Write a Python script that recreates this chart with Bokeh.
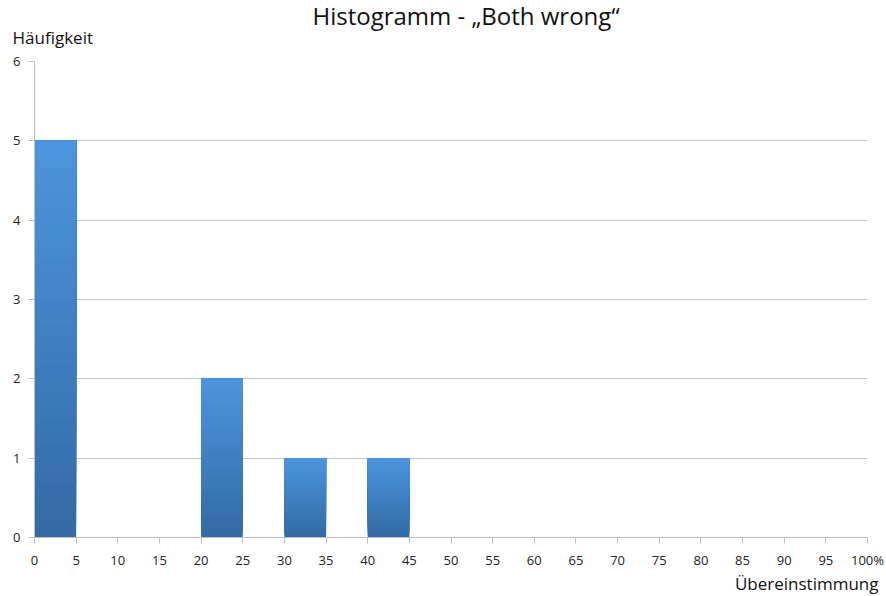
from bokeh.plotting import figure
from bokeh.models import Title, Range1d
from bokeh.embed import file_html
from bokeh.resources import INLINE

# Data
bin_starts = [0, 5, 10, 15, 20, 25, 30, 35, 40, 45, 50, 55, 60, 65, 70, 75, 80, 85, 90, 95]
bin_width = 5
counts = [5, 0, 0, 0, 2, 0, 1, 0, 1, 0, 0, 0, 0, 0, 0, 0, 0, 0, 0, 0]
x_ticks = list(range(0, 101, 5))
y_ticks = [0, 1, 2, 3, 4, 5, 6]
title_text = "Histogramm - \u201eBoth wrong\u201c"
y_label = "H\u00e4ufigkeit"
x_label = "\u00dcbereinstimmung"

FONT = "Open Sans"

p = figure(width=886, height=596, output_backend="svg", toolbar_location=None,
           x_range=Range1d(0, 100), y_range=Range1d(0, 6), title=None,
           min_border_left=34, min_border_right=19, min_border_top=61, min_border_bottom=59)
p.outline_line_color = None
p.background_fill_color = "white"
p.border_fill_color = "white"

# gradient bars (per-bar vertical gradient, overlapping slices to avoid seams)
top_rgb = (76, 149, 222)
bot_rgb = (50, 106, 164)
n = 30
lefts, rights, bottoms, tops, colors = [], [], [], [], []
for b, c in zip(bin_starts, counts):
    if c <= 0:
        continue
    for i in range(n):
        t = (i + 0.5) / n
        rgb = tuple(int(round(bot_rgb[k] + (top_rgb[k] - bot_rgb[k]) * t)) for k in range(3))
        lefts.append(b)
        rights.append(b + bin_width)
        bottoms.append(c * i / n)
        tops.append(c)
        colors.append("#%02x%02x%02x" % rgb)
p.quad(left=lefts, right=rights, bottom=bottoms, top=tops, fill_color=colors, line_color=None)

# axes
p.xaxis.ticker = x_ticks
p.xaxis.major_label_overrides = {100: "100%"}
p.yaxis.ticker = y_ticks
for ax in (p.xaxis[0], p.yaxis[0]):
    ax.axis_line_color = "#bfbfbf"
    ax.axis_line_width = 1
    ax.major_tick_line_color = "#bfbfbf"
    ax.major_tick_in = 0
    ax.major_tick_out = 6
    ax.minor_tick_line_color = None
    ax.major_label_text_font = FONT
    ax.major_label_text_font_size = "13px"
    ax.major_label_text_color = "#222222"
p.xaxis.major_label_standoff = 7
p.yaxis.major_label_standoff = 8

p.xgrid.grid_line_color = None
p.ygrid.ticker = y_ticks
p.ygrid.grid_line_color = "#c4c4c4"
p.ygrid.grid_line_width = 1

p.add_layout(Title(text=y_label, align="left", offset=-22, text_font=FONT,
                   text_font_size="17px", text_font_style="normal", text_color="#111111",
                   vertical_align="top", standoff=21), "above")
p.add_layout(Title(text=title_text, align="left", offset=278, text_font=FONT,
                   text_font_size="24px", text_font_style="normal", text_color="#111111",
                   vertical_align="middle", standoff=-46), "above")
p.add_layout(Title(text=x_label, align="right", offset=-11, text_font=FONT,
                   text_font_size="17px", text_font_style="normal", text_color="#111111",
                   standoff=-4), "below")

open("out.html", "w").write(file_html(p, INLINE))
